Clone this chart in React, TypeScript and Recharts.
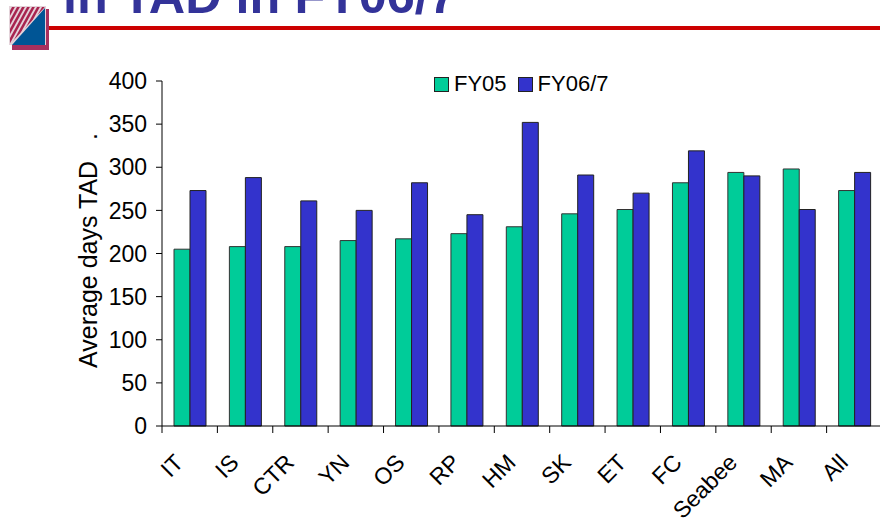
import React from 'react';
import { BarChart, Bar, XAxis, YAxis, Legend } from 'recharts';

const categories = ['IT', 'IS', 'CTR', 'YN', 'OS', 'RP', 'HM', 'SK', 'ET', 'FC', 'Seabee', 'MA', 'All'];
const fy05 = [205, 208, 208, 215, 217, 223, 231, 246, 251, 282, 294, 298, 273];
const fy067 = [273, 288, 261, 250, 282, 245, 352, 291, 270, 319, 290, 251, 294];
const yTicks = [0, 50, 100, 150, 200, 250, 300, 350, 400];

const chartData = categories.map((name, i) => ({ name, fy05: fy05[i], fy067: fy067[i] }));

const FONT = '"Liberation Sans", Arial, sans-serif';
const GREEN = '#00CC99';
const BLUE = '#3333CC';
const HALF_STEP = 720 / categories.length / 2;

// Ticks sit on the category boundaries, the label is rotated under the centre
const CategoryTick = (props: any) => {
    const { x, y, payload } = props;
    return (
        <g>
            <line x1={x - HALF_STEP} y1={y - 8} x2={x - HALF_STEP} y2={y - 1} stroke="#000" strokeWidth={1} />
            <text
                x={x - 5}
                y={y + 30}
                transform={`rotate(-45 ${x - 5} ${y + 30})`}
                textAnchor="end"
                fontSize={23}
                fontFamily={FONT}
                fill="#000"
            >
                {payload.value}
            </text>
        </g>
    );
};

const ChartLegend = (props: any) => (
    <div style={{ display: 'flex', fontFamily: FONT, fontSize: 22, color: '#000', lineHeight: '24px' }}>
        {props.payload.map((entry: any) => (
            <div key={entry.value} style={{ display: 'flex', alignItems: 'center', marginRight: 11 }}>
                <span
                    style={{
                        width: 13,
                        height: 13,
                        background: entry.color,
                        border: '1px solid #222',
                        marginRight: 5,
                        display: 'inline-block',
                    }}
                />
                {entry.value}
            </div>
        ))}
    </div>
);

// Slide header, cropped at the top in the original
const Header = () => (
    <>
        <div
            style={{
                position: 'absolute',
                left: 63,
                top: -30,
                fontFamily: FONT,
                fontWeight: 700,
                fontSize: 50.4,
                lineHeight: '52px',
                color: '#333399',
                whiteSpace: 'nowrap',
            }}
        >
            in TAD in FY06/7
        </div>
        <div style={{ position: 'absolute', left: 48, top: 26, width: 832, height: 4, background: '#CC0000' }} />
        <svg style={{ position: 'absolute', left: 9, top: 6 }} width={40} height={44}>
            <defs>
                <clipPath id="stripes">
                    <polygon points="1,1 36,1 1,38" />
                </clipPath>
            </defs>
            <rect x={3} y={3} width={37} height={41} fill="#A8305E" />
            <rect x={0} y={0} width={37} height={39} fill="#E4D3DA" />
            <g clipPath="url(#stripes)">
                {[5, 10, 15, 20, 25, 30, 35, 40, 45, 50].map((d) => (
                    <line key={d} x1={d} y1={0} x2={d - 22} y2={40} stroke="#A8244F" strokeWidth={2.5} />
                ))}
            </g>
            <polygon points="36,2 36,39 3,39" fill="#005595" />
        </svg>
    </>
);

export default function App() {
    return (
        <div
            style={{
                position: 'absolute',
                left: 0,
                top: 0,
                width: 880,
                height: 525,
                overflow: 'hidden',
                background: '#fff',
            }}
        >
            <Header />
            <div style={{ position: 'absolute', left: 0, top: 0 }}>
                <BarChart
                    width={883}
                    height={525}
                    data={chartData}
                    margin={{ top: 81, right: 1, bottom: 0, left: 0 }}
                    barCategoryGap={12}
                    barGap={0}
                >
                    <XAxis
                        dataKey="name"
                        height={75}
                        interval={0}
                        tick={<CategoryTick />}
                        tickLine={false}
                        axisLine={{ stroke: '#000', strokeWidth: 1 }}
                    />
                    <YAxis
                        width={162}
                        domain={[0, 400]}
                        ticks={yTicks}
                        interval={0}
                        tickSize={6}
                        tickMargin={9}
                        tick={{ fill: '#000', fontSize: 23, fontFamily: FONT }}
                        tickLine={{ stroke: '#000' }}
                        axisLine={{ stroke: '#000', strokeWidth: 1 }}
                        label={{
                            value: 'Average days TAD\u00A0\u00A0\u00A0.',
                            angle: -90,
                            position: 'insideLeft',
                            dx: 83,
                            dy: -3,
                            style: { textAnchor: 'middle', fill: '#000', fontSize: 25, fontFamily: FONT },
                        }}
                    />
                    <Legend
                        content={<ChartLegend />}
                        wrapperStyle={{ position: 'absolute', left: 434, top: 72, width: 240, height: 24 }}
                    />
                    <Bar dataKey="fy05" name="FY05" fill={GREEN} stroke="#333" strokeWidth={1} isAnimationActive={false} />
                    <Bar dataKey="fy067" name="FY06/7" fill={BLUE} stroke="#222" strokeWidth={1} isAnimationActive={false} />
                </BarChart>
            </div>
        </div>
    );
}
